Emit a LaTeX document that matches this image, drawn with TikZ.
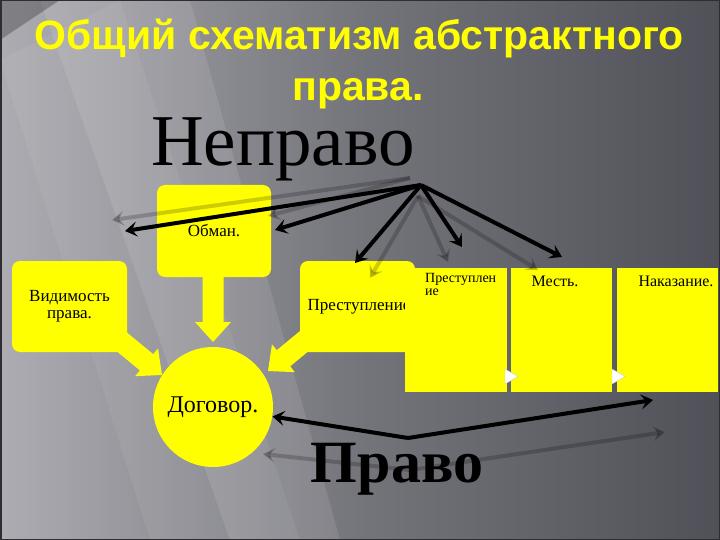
\documentclass[tikz,border=0pt]{standalone}
\usepackage{fontspec}
\setmainfont{Liberation Serif}
\newfontfamily\titlefont{Liberation Sans}
\usetikzlibrary{arrows.meta}
\definecolor{bgL}{RGB}{172,172,178}
\definecolor{bgM}{RGB}{116,116,123}
\definecolor{bgR}{RGB}{80,80,88}
\definecolor{ylw}{RGB}{255,255,0}
\definecolor{frame}{RGB}{45,45,50}
\tikzset{
  ybox/.style={fill=ylw, rounded corners=8pt, inner sep=0pt},
  pbox/.style={fill=ylw, inner sep=0pt},
  lbl/.style={font=\fontsize{17}{19}\selectfont, text=black, align=center},
  plbl/.style={font=\fontsize{16}{18}\selectfont, text=black, align=center},
  ttl/.style={font=\titlefont\bfseries\fontsize{41}{44}\selectfont, anchor=base, inner sep=0pt, text=ylw},
  blk/.style={draw=black, line width=4pt, -{Stealth[length=12pt,width=15pt,inset=5pt]}},
  ghost/.style={draw=black, draw opacity=0.2, fill opacity=0.2, line width=4pt, -{Stealth[length=12pt,width=15pt,inset=5pt]}},
  tri/.style={fill=white, draw=gray!40, line width=0.4pt},
  blockarr/.pic={\fill[ylw] (0,0) -- (-20,18) -- (-20,10.5) -- (-#1,10.5) -- (-#1,-10.5) -- (-20,-10.5) -- (-20,-18) -- cycle;}
}
\begin{document}
\begin{tikzpicture}[x=1pt,y=-1pt]
\useasboundingbox (0,0) rectangle (720,540);
% background
\shade[left color=bgL, right color=bgR, middle color=bgM] (0,0) rectangle (720,540);
\fill[white, opacity=0.10] (40,0) -- (190,0) -- (340,540) -- (230,540) -- cycle;
\fill[white, opacity=0.06] (0,60) -- (120,0) -- (300,540) -- (150,540) -- cycle;
\fill[black, opacity=0.25] (0,0) -- (60,0) -- (0,40) -- cycle;
\draw[frame, line width=3pt] (0,0) rectangle (720,540);

% title
\node[ttl] (title1) at (359,50) {Общий схематизм абстрактного};
\node[ttl] (title2) at (358,101) {права.};

% Неправо
\node[font=\fontsize{73}{80}\selectfont, text=black, anchor=base, inner sep=0pt] (neprawo) at (283,166) {Неправо};
\coordinate (np) at (421,185);

% left boxes
\node[ybox, minimum width=114pt, minimum height=92pt, lbl] (obman) at (214,231) {Обман.};
\node[ybox, minimum width=115pt, minimum height=91pt, lbl] (vid) at (69.5,306.5) {Видимость\\[-2pt]права.};
\node[ybox, minimum width=115pt, minimum height=91pt] (prest) at (357.5,306.5) {};
\node[lbl, anchor=west] (prestt) at (304,307) {Преступление};

% contract circle
\node[circle, fill=ylw, minimum size=120pt, inner sep=0pt, font=\fontsize{24}{26}\selectfont] (dog) at (213,407) {Договор.};

% block arrows
\pic at (213,342) [rotate=-90] {blockarr=68};
\pic at (162,375) [rotate=-39.5] {blockarr=62};
\pic at (268,371) [rotate=-140.5] {blockarr=62};

% process boxes
\node[pbox, minimum width=102pt, minimum height=124pt] (p1) at (456,330) {};
\node[pbox, minimum width=101pt, minimum height=124pt] (p2) at (561.5,330) {};
\node[pbox, minimum width=101pt, minimum height=124pt] (p3) at (667.5,330) {};
\node[font=\fontsize{14}{13}\selectfont, align=left, anchor=north west, inner sep=0pt] (p1t) at (425,273) {Преступлен\\ие};
\node[plbl, anchor=base] (p2t) at (555,286) {Месть.};
\node[plbl, anchor=base] (p3t) at (676,286) {Наказание.};
\filldraw[tri] (505,369) -- (518,376.5) -- (505,384) -- cycle;
\filldraw[tri] (612,369) -- (625,376.5) -- (612,384) -- cycle;

% ghost arrows (reflections)
\coordinate (ga) at (410,178);
\coordinate (gb) at (418,196);
\coordinate (g1) at (112,220);
\coordinate (g2) at (268,216);
\coordinate (g3) at (370,278);
\coordinate (g4) at (448,262);
\coordinate (g5) at (538,270);
\draw[ghost] (ga) -- (g1);
\draw[ghost] (ga) -- (g2);
\draw[ghost] (gb) -- (g3);
\draw[ghost] (gb) -- (g4);
\draw[ghost] (gb) -- (g5);

% black arrows from Неправо
\coordinate (t1) at (125,231);
\coordinate (t2) at (275,230);
\coordinate (t3) at (355,263);
\coordinate (t4) at (462,247);
\coordinate (t5) at (562,257);
\draw[blk] (np) -- (t1);
\draw[blk] (np) -- (t2);
\draw[blk] (np) -- (t3);
\draw[blk] (np) -- (t4);
\draw[blk] (np) -- (t5);

% bottom: Право
\coordinate (gp) at (410,470);
\coordinate (gl) at (263,454);
\coordinate (gr) at (665,432);
\draw[ghost] (gp) -- (gl);
\draw[ghost] (gp) -- (gr);
\node[font=\bfseries\fontsize{60}{66}\selectfont, text=black, anchor=base, inner sep=0pt] (prawo) at (397,482) {Право};
\coordinate (pr) at (408,438);
\coordinate (rr) at (653,400);
\draw[blk] (pr) -- (dog);
\draw[blk] (pr) -- (rr);
\end{tikzpicture}
\end{document}
